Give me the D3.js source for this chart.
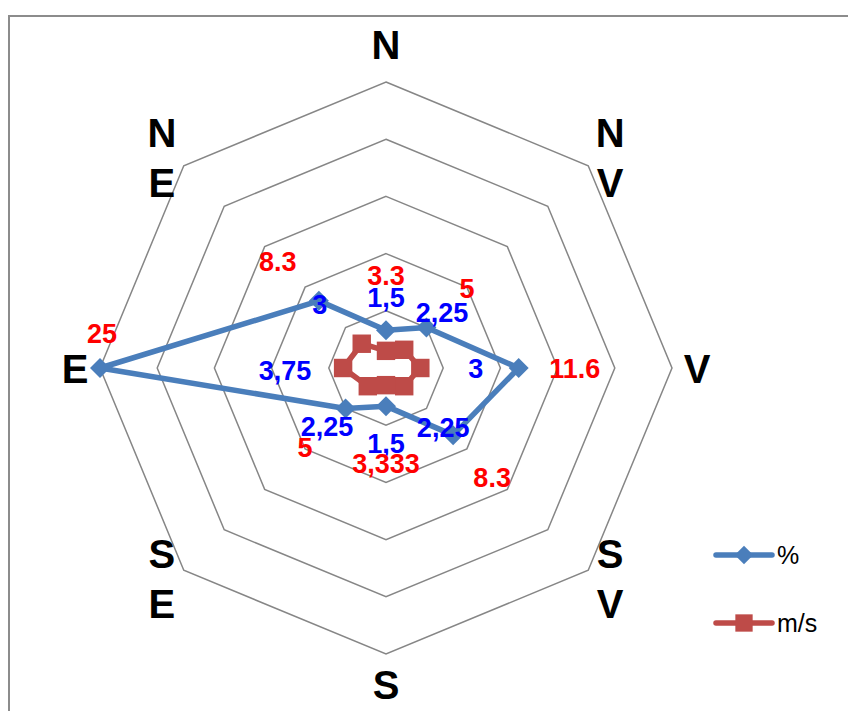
<!DOCTYPE html>
<html><head><meta charset="utf-8">
<script src="https://cdn.jsdelivr.net/npm/d3@7"></script>
<style>html,body{margin:0;padding:0;background:#fff;}svg{display:block;font-family:"Liberation Sans",Arial,sans-serif;}</style>
</head><body><svg id="c" width="848" height="711"></svg>
<script>
// ---- data ----
const directions = ["N", "NV", "V", "SV", "S", "SE", "E", "NE"];
const pctValues = [3.3, 5, 11.6, 8.3, 3.333, 5, 25, 8.3];
const msValues = [1.5, 2.25, 3, 2.25, 1.5, 2.25, 3.75, 3];
const pctLabels = ["1,5", "2,25", "3", "2,25", "1,5", "2,25", "3,75", "3"];
const msLabels = ["3.3", "5", "11.6", "8.3", "3,333", "5", "25", "8.3"];
const ringTicks = [5, 10, 15, 20, 25];
const seriesNames = ["%", "m/s"];

// ---- layout ----
const W = 848, H = 711, cx = 386, cy = 368;
const blue = "#4a7ebb", red = "#be4b48";
const svg = d3.select("#c");
const r = d3.scaleLinear().domain([0, 25]).range([0, 286]);
const ang = d3.scalePoint().domain(directions).range([0, 2 * Math.PI * 7 / 8]);
const pt = (d, v) => [cx + r(v) * Math.sin(ang(d)), cy - r(v) * Math.cos(ang(d))];

// border
svg.append("rect").attr("x", 9).attr("y", 16).attr("width", 900).attr("height", 800)
  .attr("fill", "none").attr("stroke", "#8c8c8c").attr("stroke-width", 2);

// rings
const ringLine = d3.line();
ringTicks.forEach(t => {
  const pts = directions.map(d => pt(d, t));
  svg.append("path").attr("d", ringLine(pts) + "Z").attr("fill", "none")
    .attr("stroke", "#868686").attr("stroke-width", 1.5);
});

// axis labels
directions.forEach((d, i) => {
  const a = ang(d);
  const diag = i % 2 === 1;
  const x = cx + Math.sin(a) * (diag ? 317 : (Math.abs(Math.sin(a)) > 0.5 ? 311 : 0));
  const y = cy - Math.cos(a) * (diag ? 297 : (d === "N" ? 324 : 316));
  const lines = d.length === 2 ? [d[0], d[1]] : [d];
  const t = svg.append("text").attr("x", x).attr("text-anchor", "middle")
    .attr("font-size", 40).attr("font-weight", "bold").attr("fill", "#000");
  lines.forEach((ch, k) => {
    const off = lines.length === 2 ? (k === 0 ? -25 : 25) : 0;
    t.append("tspan").attr("x", x).attr("y", y + off + 14.5).text(ch);
  });
});

// series
const lineGen = d3.line();
function drawSeries(values, color) {
  const pts = directions.map((d, i) => pt(d, values[i]));
  svg.append("path").attr("d", lineGen(pts) + "Z").attr("fill", "none")
    .attr("stroke", color).attr("stroke-width", 5.5).attr("stroke-linejoin", "round");
  return pts;
}
const bluePts = drawSeries(pctValues, blue);
bluePts.forEach(p => {
  svg.append("path").attr("d", d3.symbol(d3.symbolSquare, 200)())
    .attr("transform", `translate(${p[0]},${p[1]}) rotate(45)`).attr("fill", blue);
});
const redPts = drawSeries(msValues, red);
redPts.forEach(p => {
  svg.append("path").attr("d", d3.symbol(d3.symbolSquare, 340)())
    .attr("transform", `translate(${p[0]},${p[1]})`).attr("fill", red);
});

// data labels (offsets from the % series points)
const blueOff = [[0,-33],[15.5,-15.5],[-43,0],[-10,-8],[0,37],[-18.5,18.5],[185,2],[1,4]];
const redOff = [[0,-55],[40.5,-39.5],[56,0],[39,42],[0,57],[-40.5,39.5],[2,-35],[-41,-39]];
bluePts.forEach((p, i) => {
  svg.append("text").attr("x", p[0] + blueOff[i][0]).attr("y", p[1] + blueOff[i][1] + 9.5)
    .attr("text-anchor", "middle").attr("font-size", 27).attr("font-weight", "bold")
    .attr("fill", "#0000ff").text(pctLabels[i]);
  svg.append("text").attr("x", p[0] + redOff[i][0]).attr("y", p[1] + redOff[i][1] + 9.5)
    .attr("text-anchor", "middle").attr("font-size", 27).attr("font-weight", "bold")
    .attr("fill", "#ff0000").text(msLabels[i]);
});

// legend
const legY = d3.scalePoint().domain(seriesNames).range([555, 623]);
seriesNames.forEach((s, i) => {
  const y = legY(s), col = i === 0 ? blue : red;
  svg.append("line").attr("x1", 716).attr("x2", 772).attr("y1", y).attr("y2", y)
    .attr("stroke", col).attr("stroke-width", 5.5).attr("stroke-linecap", "round");
  if (i === 0) {
    svg.append("path").attr("d", d3.symbol(d3.symbolSquare, 170)())
      .attr("transform", `translate(744,${y}) rotate(45)`).attr("fill", col);
  } else {
    svg.append("path").attr("d", d3.symbol(d3.symbolSquare, 300)())
      .attr("transform", `translate(744,${y})`).attr("fill", col);
  }
  svg.append("text").attr("x", 777).attr("y", y + 9).attr("font-size", 25)
    .attr("fill", "#000").text(s);
});
</script></body></html>
